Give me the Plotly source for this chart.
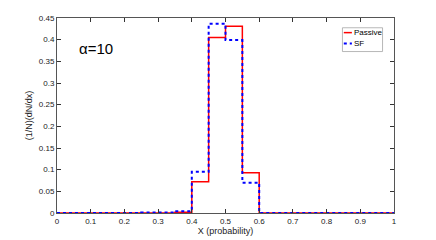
import plotly.graph_objects as go

bin_edges = [round(0.05 * i, 2) for i in range(21)]
passive = [0, 0, 0, 0, 0, 0, 0, 0.002, 0.072, 0.405, 0.431, 0.093, 0, 0, 0, 0, 0, 0, 0, 0]
sf = [0, 0, 0, 0, 0, 0.001, 0.001, 0.004, 0.095, 0.437, 0.399, 0.070, 0, 0, 0, 0, 0, 0, 0, 0]
series_names = ["Passive", "SF"]
x_ticks = [0, 0.1, 0.2, 0.3, 0.4, 0.5, 0.6, 0.7, 0.8, 0.9, 1]
x_tick_labels = ["0", "0.1", "0.2", "0.3", "0.4", "0.5", "0.6", "0.7", "0.8", "0.9", "1"]
y_ticks = [0, 0.05, 0.1, 0.15, 0.2, 0.25, 0.3, 0.35, 0.4, 0.45]
y_tick_labels = ["0", "0.05", "0.1", "0.15", "0.2", "0.25", "0.3", "0.35", "0.4", "0.45"]

styles = [dict(color="#ff0000", width=1.5), dict(color="#0000ff", width=2, dash="dot")]

fig = go.Figure()
for vals, name, st in zip([passive, sf], series_names, styles):
    fig.add_trace(go.Scatter(x=bin_edges, y=vals + [vals[-1]], mode="lines", line_shape="hv",
                             name=name, line=st, showlegend=False))

axis_common = dict(showgrid=False, zeroline=False, showline=True, linecolor="#555555", linewidth=1,
                   mirror="ticks", ticks="inside", ticklen=4, tickcolor="#333333", automargin=False,
                   tickfont=dict(family="Liberation Sans", size=8, color="#222222"))
fig.update_xaxes(range=[0, 1], tickvals=x_ticks, ticktext=x_tick_labels,
                 title=dict(text="X (probability)", font=dict(family="Liberation Sans", size=9, color="#222222"), standoff=0),
                 **axis_common)
fig.update_yaxes(range=[0, 0.45], tickvals=y_ticks, ticktext=y_tick_labels,
                 title=dict(text="(1/N)(dN/dx)", font=dict(family="Liberation Sans", size=9, color="#222222"), standoff=4),
                 **axis_common)

fig.add_annotation(x=0.06, y=0.38, xref="x", yref="y", text="α=10", showarrow=False,
                   xanchor="left", font=dict(family="Liberation Sans", size=15, color="#000000"))

# manual legend box
fig.add_shape(type="rect", xref="paper", yref="paper", x0=0.847, x1=0.966, y0=0.828, y1=0.95,
              line=dict(color="#999999", width=0.7), fillcolor="white", layer="above")
legend_y = [0.925, 0.869]
for name, st, ly in zip(series_names, styles, legend_y):
    fig.add_shape(type="line", xref="paper", yref="paper", x0=0.851, x1=0.875, y0=ly, y1=ly,
                  line=st, layer="above")
    fig.add_annotation(x=0.876, y=ly, xref="paper", yref="paper", text=name, showarrow=False,
                       xanchor="left", yanchor="middle",
                       font=dict(family="Liberation Sans", size=8, color="#000000"))

fig.update_layout(
    width=428, height=232,
    margin=dict(l=49, r=42, t=10, b=27),
    paper_bgcolor="white", plot_bgcolor="white",
    showlegend=False,
)
fig.write_html("out.html")
